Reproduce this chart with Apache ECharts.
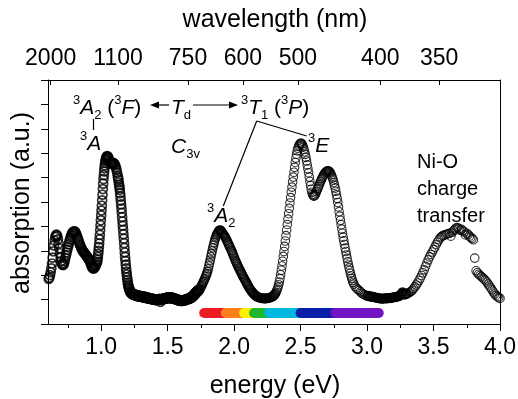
<!DOCTYPE html>
<html><head><meta charset="utf-8">
<script src="https://cdn.jsdelivr.net/npm/echarts@6/dist/echarts.min.js"></script>
<style>html,body{margin:0;padding:0;background:#fff}#c{width:518px;height:399px}</style>
</head><body><div id="c"></div>
<script>
// ---- data: [energy (eV), absorption (a.u.)] ----
const nirBands = [[0.605,1.85],[0.61,1.9],[0.615,2.0],[0.62,2.12],[0.625,2.28],[0.63,2.48],[0.635,2.72],[0.64,2.98],[0.645,3.22],[0.65,3.42],[0.655,3.57],[0.66,3.64],[0.665,3.66],[0.67,3.6],[0.675,3.47],[0.68,3.3],[0.685,3.1],[0.69,2.9],[0.695,2.72],[0.70,2.57],[0.705,2.47],[0.71,2.42],[0.715,2.42],[0.72,2.48],[0.725,2.58],[0.73,2.7],[0.735,2.82],[0.74,2.93],[0.745,3.04],[0.75,3.15],[0.755,3.26],[0.76,3.36],[0.765,3.46],[0.77,3.55],[0.775,3.63],[0.78,3.7],[0.785,3.75],[0.79,3.78],[0.795,3.8],[0.80,3.8],[0.805,3.77],[0.81,3.72],[0.815,3.65],[0.82,3.57],[0.825,3.49],[0.83,3.41],[0.835,3.33],[0.84,3.26],[0.845,3.19],[0.85,3.12],[0.855,3.06],[0.86,3.01],[0.865,2.97],[0.87,2.93],[0.875,2.9],[0.88,2.87],[0.885,2.83],[0.89,2.79],[0.895,2.75],[0.90,2.71],[0.905,2.67],[0.91,2.63],[0.915,2.58],[0.92,2.5],[0.925,2.42],[0.93,2.35],[0.935,2.3],[0.94,2.28],[0.945,2.28],[0.95,2.31],[0.955,2.36],[0.96,2.42],[0.965,2.48],
[0.97,2.55],[0.9725,2.64],[0.975,2.75],[0.9775,2.87],[0.98,3.0],[0.9825,3.15],[0.985,3.3],[0.9875,3.47],[0.99,3.65],[0.9925,3.85],[0.995,4.05],[0.9975,4.25],[1.0,4.45],[1.0025,4.65],[1.005,4.85],[1.0075,5.07],[1.01,5.3],[1.0125,5.53],[1.015,5.75],[1.0175,5.94],[1.02,6.1],[1.0225,6.25],[1.025,6.38],[1.0275,6.5],[1.03,6.6],[1.0325,6.68],[1.035,6.74],[1.0375,6.79],[1.04,6.83],[1.0425,6.86],[1.045,6.88],
[1.05,6.86],[1.055,6.8],[1.06,6.72],[1.065,6.64],[1.07,6.6],[1.075,6.58],[1.08,6.58],[1.085,6.59],[1.09,6.6],[1.095,6.59],[1.10,6.56],[1.105,6.5],[1.11,6.42],[1.115,6.33],[1.12,6.2],[1.125,6.06],
[1.1275,5.98],[1.13,5.9],[1.1325,5.8],[1.135,5.7],[1.1375,5.6],[1.14,5.5],[1.1425,5.36],[1.145,5.22],[1.1475,5.06],[1.15,4.9],[1.1525,4.73],[1.155,4.56],[1.1575,4.38],[1.16,4.2],[1.1625,4.03],[1.165,3.86],[1.1675,3.68],[1.17,3.5],[1.1725,3.31],[1.175,3.12],[1.1775,2.93],[1.18,2.75],[1.1825,2.59],[1.185,2.43],[1.1875,2.28],[1.19,2.15],[1.1925,2.03],[1.195,1.91],[1.1975,1.8],[1.20,1.7],[1.2025,1.62],[1.205,1.55],[1.2075,1.49],[1.21,1.45]];

const gapRegion = [[1.215,1.38],[1.22,1.32],[1.225,1.28],[1.23,1.25],[1.235,1.23],[1.24,1.22],[1.245,1.21],[1.25,1.2],[1.255,1.19],[1.26,1.18],[1.265,1.17],[1.27,1.16],[1.275,1.15],[1.28,1.15],[1.285,1.14],[1.29,1.14],[1.295,1.13],[1.30,1.13],[1.305,1.12],[1.31,1.12],[1.315,1.11],[1.32,1.1],[1.325,1.1],[1.33,1.1],[1.335,1.09],[1.34,1.08],[1.345,1.07],[1.35,1.07],[1.355,1.06],[1.36,1.05],[1.365,1.05],[1.37,1.04],[1.375,1.03],[1.38,1.03],[1.385,1.02],[1.39,1.02],[1.395,1.01],[1.40,1.0],[1.405,1.0],[1.41,1.0],[1.415,0.99],[1.42,0.99],[1.425,1.0],[1.43,1.0],[1.435,1.01],[1.44,1.02],[1.445,0.92],[1.45,1.0],[1.455,1.01],[1.46,1.02],[1.465,1.02],[1.47,1.03],[1.475,1.04],[1.48,1.05],[1.485,1.05],[1.49,1.06],[1.495,1.07],[1.50,1.07],[1.505,1.08],[1.51,1.08],[1.515,1.08],[1.52,1.08],[1.525,1.07],[1.53,1.07],[1.535,1.06],[1.54,1.06],[1.545,1.05],[1.55,1.04],[1.555,1.03],[1.56,1.02],[1.565,1.01],[1.57,1.0],[1.575,0.99],[1.58,0.98],[1.585,0.97],[1.59,0.97],[1.595,0.96],[1.60,0.96],[1.605,0.96],[1.61,0.96],[1.615,0.96],[1.62,0.97],[1.625,0.97],[1.63,0.98],[1.635,0.99],[1.64,1.0],[1.645,1.01],[1.65,1.02],[1.655,1.03],[1.66,1.04],[1.665,1.05],[1.67,1.07],[1.675,1.08],[1.68,1.1],[1.685,1.12],[1.69,1.14],[1.695,1.17],[1.70,1.2],[1.705,1.23],[1.71,1.26],[1.715,1.29],[1.72,1.32],[1.725,1.35],[1.73,1.37],[1.735,1.4]];

const a2Band = [[1.74,1.42],[1.745,1.47],[1.75,1.52],[1.755,1.57],[1.76,1.62],[1.765,1.68],[1.77,1.74],[1.775,1.8],[1.78,1.86],[1.785,1.93],[1.79,2.0],[1.795,2.07],[1.80,2.15],[1.805,2.26],[1.81,2.38],[1.815,2.5],[1.82,2.62],[1.825,2.75],[1.83,2.88],[1.835,3.0],[1.84,3.12],[1.845,3.23],[1.85,3.34],[1.855,3.44],[1.86,3.53],[1.865,3.61],[1.87,3.67],[1.875,3.72],[1.88,3.77],[1.885,3.81],[1.89,3.84],[1.895,3.85],[1.90,3.83],[1.905,3.79],[1.91,3.75],[1.915,3.71],[1.92,3.67],[1.925,3.63],[1.93,3.59],[1.935,3.54],[1.94,3.49],[1.945,3.43],[1.95,3.37],[1.955,3.31],[1.96,3.25],[1.965,3.19],[1.97,3.13],[1.975,3.07],[1.98,3.01],[1.985,2.95],[1.99,2.88],[1.995,2.81],[2.00,2.74],[2.005,2.67],[2.01,2.6],
[2.015,2.54],[2.02,2.48],[2.025,2.42],[2.03,2.36],[2.035,2.3],[2.04,2.25],[2.045,2.19],[2.05,2.14],[2.055,2.08],[2.06,2.03],[2.065,1.97],[2.07,1.92],[2.075,1.87],[2.08,1.82],[2.085,1.77],[2.09,1.72],[2.095,1.67],[2.10,1.62],[2.105,1.57],[2.11,1.52],[2.115,1.47],[2.12,1.43],[2.125,1.39],[2.13,1.35],[2.135,1.31],[2.14,1.28],[2.145,1.25],[2.15,1.22],[2.155,1.19],[2.16,1.17],[2.165,1.15],[2.17,1.13],[2.175,1.11],[2.18,1.1],[2.185,1.09],[2.19,1.08],[2.195,1.07],[2.20,1.06],[2.205,1.05],[2.21,1.05],[2.215,1.05],[2.22,1.05],[2.225,1.04],[2.23,1.04],[2.235,1.04],[2.24,1.05],[2.245,1.05],[2.25,1.05],[2.255,1.05],[2.26,1.06],[2.265,1.07],[2.27,1.08],[2.275,1.09],[2.28,1.1],[2.285,1.11],[2.29,1.13],[2.295,1.15],[2.30,1.18],[2.305,1.21],[2.31,1.25]];

const eBand = [[2.315,1.3],[2.32,1.36],[2.325,1.43],[2.33,1.51],[2.335,1.61],[2.34,1.72],[2.345,1.86],[2.35,2.02],[2.355,2.2],[2.36,2.38],[2.365,2.57],[2.37,2.77],[2.375,2.97],[2.38,3.18],[2.385,3.4],[2.39,3.62],[2.395,3.85],[2.40,4.08],[2.405,4.3],[2.41,4.52],[2.415,4.74],[2.42,4.96],[2.425,5.18],[2.43,5.4],[2.435,5.61],[2.44,5.82],[2.445,6.02],[2.45,6.22],[2.455,6.42],[2.46,6.62],[2.465,6.8],[2.47,6.96],[2.475,7.1],[2.48,7.2],[2.485,7.28],[2.49,7.34],[2.495,7.38],[2.50,7.41],[2.505,7.41],[2.51,7.38],[2.515,7.32],[2.52,7.25],[2.525,7.16],[2.53,7.06],[2.535,6.95],[2.54,6.83],[2.545,6.68],[2.55,6.52],[2.555,6.36],[2.56,6.2],[2.565,6.02],[2.57,5.84],[2.575,5.67],[2.58,5.52],[2.585,5.4],[2.59,5.31],[2.595,5.26],[2.60,5.24],[2.605,5.26],[2.61,5.3],[2.615,5.36],[2.62,5.43],[2.625,5.5],[2.63,5.56],[2.635,5.63],[2.64,5.7],[2.645,5.77],[2.65,5.84],[2.655,5.9],[2.66,5.96],[2.665,6.02],[2.67,6.07],[2.675,6.12],[2.68,6.16],[2.685,6.2],[2.69,6.23],[2.695,6.25],[2.70,6.27],[2.705,6.28],[2.71,6.27],[2.715,6.25],[2.72,6.22],[2.725,6.18],[2.73,6.12],[2.735,6.06],[2.74,5.98],[2.745,5.9],[2.75,5.8],[2.755,5.69],[2.76,5.57],[2.765,5.44],[2.77,5.3],[2.775,5.15],[2.78,4.98],[2.785,4.8],[2.79,4.6],[2.795,4.42],[2.80,4.25],[2.805,4.07],[2.81,3.89],[2.815,3.72],[2.82,3.56],[2.825,3.41],[2.83,3.26],[2.835,3.11],[2.84,2.97],[2.845,2.83],[2.85,2.69],[2.855,2.55],[2.86,2.42],[2.865,2.3],[2.87,2.19],[2.875,2.08],[2.88,1.97],[2.885,1.87],[2.89,1.78],[2.895,1.7],[2.90,1.63],
[2.91,1.54],[2.92,1.47],[2.93,1.42],[2.94,1.38],[2.95,1.32],[2.96,1.27],[2.97,1.23],[2.98,1.2],[2.99,1.17]];

const uvFlat = [[3.00,1.15],[3.005,1.16],[3.01,1.14],[3.015,1.13],[3.02,1.13],[3.025,1.14],[3.03,1.12],[3.035,1.11],[3.04,1.11],[3.045,1.12],[3.05,1.1],[3.055,1.09],[3.06,1.08],[3.065,1.09],[3.07,1.07],[3.075,1.06],[3.08,1.06],[3.085,1.07],[3.09,1.05],[3.095,1.04],[3.10,1.04],[3.105,1.05],[3.11,1.04],[3.115,1.03],[3.12,1.03],[3.125,1.05],[3.13,1.04],[3.135,1.06],[3.14,1.05],[3.145,1.04],[3.15,1.04],[3.155,1.06],[3.16,1.05],[3.165,1.07],[3.17,1.06],[3.175,1.05],[3.18,1.06],[3.185,1.08],[3.19,1.07],[3.195,1.09],[3.20,1.08],[3.205,1.1],[3.21,1.09],[3.215,1.11],[3.22,1.1],[3.225,1.12],[3.23,1.12],[3.235,1.14],[3.24,1.14],[3.245,1.16],[3.25,1.17],[3.255,1.2],[3.26,1.25],[3.265,1.3],[3.27,1.3],[3.275,1.24],[3.28,1.2],[3.285,1.21],[3.29,1.22],[3.295,1.23],[3.30,1.24]];

const chargeTransfer = [[3.31,1.27],[3.32,1.3],[3.33,1.33],[3.34,1.38],[3.35,1.45],[3.36,1.52],[3.37,1.6],[3.38,1.68],[3.39,1.78],[3.40,1.88],[3.41,1.99],[3.42,2.1],[3.43,2.22],[3.44,2.36],[3.45,2.5],[3.46,2.63],[3.47,2.75],[3.48,2.85],[3.49,2.95],[3.50,3.05],[3.51,3.15],[3.52,3.26],[3.53,3.36],[3.54,3.45],[3.55,3.53],[3.56,3.58],[3.57,3.62],[3.58,3.64],[3.59,3.66],[3.60,3.68],[3.61,3.7],[3.62,3.72],[3.63,3.6],[3.64,3.76],[3.65,3.82],[3.66,3.88],[3.67,3.93],[3.68,3.95],[3.69,3.9],[3.70,3.84],[3.71,3.88],[3.72,3.82],[3.73,3.78],[3.74,3.65],[3.75,3.72],[3.76,3.66],[3.77,3.6],[3.78,3.55],[3.79,3.5],[3.80,3.45],[3.81,2.7],[3.82,2.18],[3.83,2.1],[3.84,2.04],[3.85,1.99],[3.86,1.94],[3.87,1.89],[3.88,1.84],[3.89,1.79],[3.90,1.72],[3.91,1.64],[3.92,1.56],[3.93,1.48],[3.94,1.4],[3.95,1.31],[3.96,1.23],[3.97,1.17],[3.98,1.12],[3.99,1.08],[4.00,1.05]];

// ---- axes ----
const energyTicks = [1.0, 1.5, 2.0, 2.5, 3.0, 3.5, 4.0];
const energyMinorTicks = [0.75, 1.25, 1.75, 2.25, 2.75, 3.25, 3.75];
const wavelengthTicks = [2000, 1100, 750, 600, 500, 400, 350];
const HC = 1239.84; // eV*nm

// ---- visible spectrum bar (energy ranges) ----
const bandStarts = [1.775, 1.9375, 2.075, 2.15, 2.2625, 2.50, 2.763];
const bandEnds   = [1.94, 2.08, 2.155, 2.27, 2.505, 2.77, 3.088];
const bandColors = ['#ec1c24', '#ff7f1e', '#fff000', '#1db82e', '#00b8e0', '#0a1fa8', '#7314c2'];
const bandLevel = 0.45;

const FONT = '"Liberation Sans", Arial, Helvetica, sans-serif';
const chart = echarts.init(document.getElementById('c'), null, {renderer: 'canvas'});

const rich = {
  n:   {fontSize: 21, fontFamily: FONT, lineHeight: 28, fill: '#000'},
  i:   {fontSize: 21, fontFamily: FONT, fontStyle: 'italic', lineHeight: 28, fill: '#000'},
  sup: {fontSize: 13, fontFamily: FONT, lineHeight: 13, verticalAlign: 'top', fill: '#000'},
  sub: {fontSize: 13, fontFamily: FONT, lineHeight: 13, verticalAlign: 'bottom', fill: '#000'}
};
function rt(text, x, y) {
  return {type: 'text', x: x, y: y, z: 100, silent: true,
    style: {text: text, rich: rich, align: 'left', verticalAlign: 'middle', textAlign: 'left', textVerticalAlign: 'middle'}};
}
function plain(text, x, y, size, align, rot) {
  return {type: 'text', x: x, y: y, rotation: rot || 0, z: 100, silent: true,
    style: {text: text, fill: '#000', font: size + 'px ' + FONT, align: align, verticalAlign: 'middle', textAlign: align, textVerticalAlign: 'middle'}};
}
function seg(x1, y1, x2, y2) {
  return {type: 'line', z: 100, silent: true, shape: {x1: x1, y1: y1, x2: x2, y2: y2}, style: {stroke: '#000', lineWidth: 1.2}};
}
function head(pts) {
  return {type: 'polygon', z: 100, silent: true, shape: {points: pts}, style: {fill: '#000'}};
}

function scatter(d, size, bw) {
  return {type: 'scatter', symbol: 'circle', symbolSize: size, silent: true, z: 5, data: d,
    itemStyle: {color: 'rgba(255,255,255,0)', borderColor: '#000', borderWidth: bw}};
}

const series = [
  scatter(nirBands, 9, 1.7),
  scatter(gapRegion, 9.5, 1.8),
  scatter(a2Band, 8.5, 1.3),
  scatter(eBand, 8.5, 1.1),
  scatter(uvFlat, 8.5, 1.3),
  scatter(chargeTransfer, 8.5, 1.1)
];
bandStarts.forEach((s, i) => {
  series.push({type: 'line', data: [[s, bandLevel], [bandEnds[i], bandLevel]], symbol: 'none', showSymbol: false,
    silent: true, z: 2 + i * 0.01, lineStyle: {color: bandColors[i], width: 10, cap: 'round'}});
});

const option = {
  animation: false,
  backgroundColor: '#fff',
  grid: {left: 48, right: 18, top: 80, bottom: 75, containLabel: false, outerBoundsMode: 'none'},
  xAxis: [
    {type: 'value', position: 'bottom', min: 0.6, max: 4.0,
     axisLine: {show: true, onZero: false, lineStyle: {color: '#000', width: 1}},
     axisTick: {show: true, inside: false, length: 7, customValues: energyTicks, lineStyle: {color: '#000', width: 1}},
     axisLabel: {show: true, customValues: energyTicks, margin: 12, color: '#000', fontSize: 23, fontFamily: FONT,
                 formatter: v => v.toFixed(1)},
     splitLine: {show: false}},
    {type: 'value', position: 'top', min: 0.6, max: 4.0,
     axisLine: {show: true, onZero: false, lineStyle: {color: '#000', width: 1}},
     axisTick: {show: true, inside: true, length: 5, customValues: wavelengthTicks.map(w => HC / w), lineStyle: {color: '#000', width: 1}},
     axisLabel: {show: true, customValues: wavelengthTicks.map(w => HC / w), margin: 10, color: '#000', fontSize: 23, fontFamily: FONT,
                 formatter: v => String(Math.round(HC / v))},
     splitLine: {show: false}},
    {type: 'value', position: 'bottom', min: 0.6, max: 4.0,
     axisLine: {show: false, onZero: false},
     axisTick: {show: true, inside: false, length: 4, customValues: energyMinorTicks, lineStyle: {color: '#000', width: 1}},
     axisLabel: {show: false},
     splitLine: {show: false}}
  ],
  yAxis: [
    {type: 'value', position: 'left', min: 0, max: 10, interval: 1,
     axisLine: {show: true, onZero: false, lineStyle: {color: '#000', width: 1}},
     axisTick: {show: true, inside: false, length: 7, lineStyle: {color: '#000', width: 1}},
     axisLabel: {show: false}, splitLine: {show: false}},
    {type: 'value', position: 'right', min: 0, max: 10,
     axisLine: {show: true, onZero: false, lineStyle: {color: '#000', width: 1}},
     axisTick: {show: false}, axisLabel: {show: false}, splitLine: {show: false}}
  ],
  series: series,
  graphic: [
    plain('wavelength (nm)', 275, 20, 25, 'center'),
    plain('energy (eV)', 275, 386, 25, 'center'),
    plain('absorption (a.u.)', 22, 203, 25, 'center', Math.PI / 2),
    rt('{sup|3}{i|A}{sub|2}{n| (}{sup|3}{i|F}{n|)}', 73, 108),
    seg(93.5, 119, 93.5, 130),
    rt('{sup|3}{i|A}', 80, 144),
    seg(157, 105, 169, 105), head([[150, 105], [159, 101.5], [159, 108.5]]),
    rt('{i|T}{sub|d}', 171, 108),
    seg(193, 105, 230, 105), head([[238, 105], [229, 101.5], [229, 108.5]]),
    rt('{i|C}{sub|3v}', 171, 147),
    rt('{sup|3}{i|T}{sub|1}{n| (}{sup|3}{i|P}{n|)}', 241, 108),
    seg(256.7, 121, 223.3, 206), seg(256.7, 121, 306.7, 136),
    rt('{sup|3}{i|E}', 308, 146),
    rt('{sup|3}{i|A}{sub|2}', 207, 216),
    plain('Ni-O', 417, 162, 20, 'left'),
    plain('charge', 417, 189, 20, 'left'),
    plain('transfer', 417, 216, 20, 'left')
  ]
};
chart.setOption(option);
</script>
</body></html>
